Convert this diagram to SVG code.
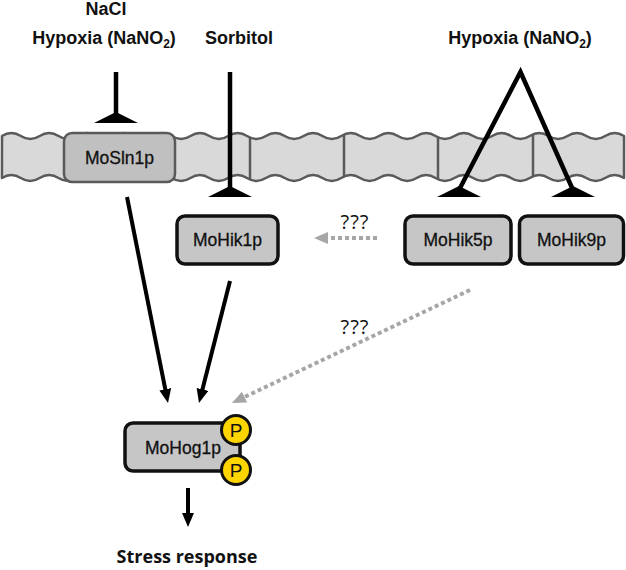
<svg xmlns="http://www.w3.org/2000/svg" width="626" height="570" viewBox="0 0 626 570">
<style>
.lbl{font-family:"Liberation Sans",Arial,sans-serif;font-weight:bold;font-size:18px;fill:#111;text-anchor:middle}
.box{fill:#c6c6c6;stroke:#111;stroke-width:3.5}
.bt{font-family:"Liberation Sans",Arial,sans-serif;font-size:17.5px;fill:#111;text-anchor:middle;stroke:#111;stroke-width:0.3}
.q{font-family:"Open Sans","Liberation Sans",sans-serif;font-size:20px;fill:#111;text-anchor:middle;letter-spacing:1px}
.stem{stroke:#000;stroke-width:4.5;fill:none}
.arr{stroke:#000;stroke-width:4;fill:none;marker-end:url(#ah)}
.dot{stroke:#a6a6a6;stroke-width:4;fill:none;stroke-dasharray:4 3;marker-end:url(#gh)}
.p{fill:#ffd500;stroke:#111;stroke-width:3}
.pt{font-family:"Liberation Sans",Arial,sans-serif;font-size:19px;fill:#111;text-anchor:middle}
</style>
<defs>
<marker id="ah" viewBox="0 0 14 12" refX="4" refY="6" markerWidth="14" markerHeight="12" markerUnits="userSpaceOnUse" orient="auto">
<path d="M0,0 L14,6 L0,12 Z" fill="#000"/>
</marker>
<marker id="gh" viewBox="0 0 14 12" refX="4" refY="6" markerWidth="14" markerHeight="12" markerUnits="userSpaceOnUse" orient="auto">
<path d="M0,0 L14,6 L0,12 Z" fill="#a6a6a6"/>
</marker>
</defs>
<g id="membrane">
<path d="M2,136 q9.42,-6 18.85,0 t18.85,0 t18.85,0 t18.85,0 t18.85,0 t18.85,0 t18.85,0 t18.85,0 t18.85,0 t18.85,0 t18.85,0 t18.85,0 t18.85,0 t18.85,0 t18.85,0 t18.85,0 t18.85,0 t18.85,0 t18.85,0 t18.85,0 t18.85,0 t18.85,0 t18.85,0 t18.85,0 t18.85,0 t18.85,0 t18.85,0 t18.85,0 t18.85,0 t18.85,0 t18.85,0 t18.85,0 t18.85,0 L624,178 q-9.42,-6 -18.85,0 t-18.85,0 t-18.85,0 t-18.85,0 t-18.85,0 t-18.85,0 t-18.85,0 t-18.85,0 t-18.85,0 t-18.85,0 t-18.85,0 t-18.85,0 t-18.85,0 t-18.85,0 t-18.85,0 t-18.85,0 t-18.85,0 t-18.85,0 t-18.85,0 t-18.85,0 t-18.85,0 t-18.85,0 t-18.85,0 t-18.85,0 t-18.85,0 t-18.85,0 t-18.85,0 t-18.85,0 t-18.85,0 t-18.85,0 t-18.85,0 t-18.85,0 t-18.85,0 Z" fill="#d9d9d9" stroke="#5a5a5a" stroke-width="2.5" stroke-linejoin="round"/>
<g stroke="#5a5a5a" stroke-width="2.5">
<line x1="250" y1="137.6" x2="250" y2="179.6"/>
<line x1="344" y1="134.6" x2="344" y2="176.6"/>
<line x1="438" y1="137.4" x2="438" y2="179.4"/>
<line x1="533" y1="134.3" x2="533" y2="176.3"/>
</g>
</g>
<g id="MoSln1p">
<rect x="64" y="133" width="111" height="49" rx="8" fill="#c0c0c0" stroke="#5a5a5a" stroke-width="2.5"/>
<text class="bt" x="119.5" y="163.5">MoSln1p</text>
</g>
<g id="labels">
<text class="lbl" x="106" y="15">NaCl</text>
<text class="lbl" x="104" y="44">Hypoxia (NaNO<tspan font-size="12" dy="4">2</tspan><tspan dy="-4">)</tspan></text>
<text class="lbl" x="239" y="44">Sorbitol</text>
<text class="lbl" x="520" y="44">Hypoxia (NaNO<tspan font-size="12" dy="4">2</tspan><tspan dy="-4">)</tspan></text>
</g>
<g id="MoHik1p">
<rect class="box" x="177" y="216" width="101" height="48" rx="8"/>
<text class="bt" x="227.5" y="246">MoHik1p</text>
</g>
<g id="MoHik5p">
<rect class="box" x="405" y="216" width="106" height="48" rx="8"/>
<text class="bt" x="458" y="246">MoHik5p</text>
</g>
<g id="MoHik9p">
<rect class="box" x="519.5" y="216" width="104" height="48" rx="8"/>
<text class="bt" x="571.5" y="246">MoHik9p</text>
</g>
<g id="MoHog1p">
<rect class="box" x="125" y="423" width="115" height="48" rx="8"/>
<text class="bt" x="183" y="454">MoHog1p</text>
<circle class="p" cx="236" cy="430" r="14.5"/>
<text class="pt" x="236" y="437">P</text>
<circle class="p" cx="236" cy="470" r="14.5"/>
<text class="pt" x="236" y="477">P</text>
</g>
<g id="stress">
<text x="187" y="563" font-family="'Open Sans','Liberation Sans',sans-serif" font-weight="bold" font-size="18" fill="#111" text-anchor="middle">Stress response</text>
</g>
<g id="connectors">
<line class="stem" x1="116" y1="72" x2="116" y2="116"/>
<polygon points="116,112 138,123 94,123" fill="#000"/>
<line class="stem" x1="230" y1="72" x2="230" y2="190"/>
<polygon points="230,186 252,197 208,197" fill="#000"/>
<polyline class="stem" points="459,190 520.5,72 573,190" stroke-linejoin="miter"/>
<polygon points="459,186 481,197 437,197" fill="#000"/>
<polygon points="573,186 595,197 551,197" fill="#000"/>
<line class="arr" x1="127" y1="197" x2="166.05" y2="393.2"/>
<line class="arr" x1="230" y1="281" x2="201.46" y2="393.3"/>
<line class="arr" x1="188" y1="488" x2="188" y2="517"/>
<line class="dot" x1="377" y1="238" x2="324" y2="238"/>
<line class="dot" x1="470" y1="290" x2="241" y2="398.7"/>
<text class="q" x="355" y="229">???</text>
<text class="q" x="355" y="334">???</text>
</g>
</svg>
